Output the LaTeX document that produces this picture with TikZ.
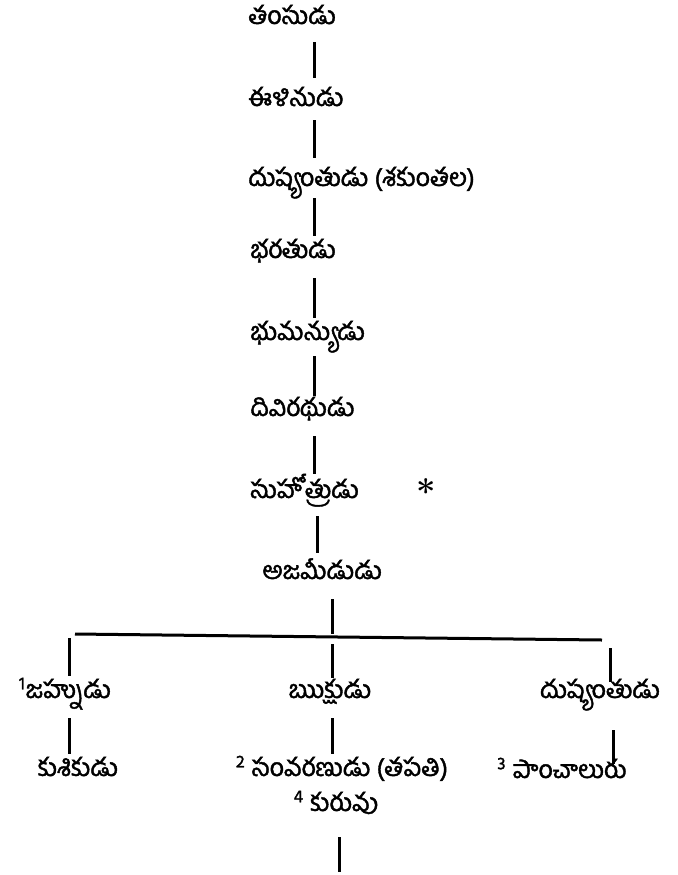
\documentclass[tikz,border=0pt]{standalone}
\usepackage{fontspec}
\usepackage{tikz}
\newfontfamily\telugu[Script=Telugu, FakeBold=1.6]{Hind Guntur}
\tikzset{
    gen/.style = {anchor=west, inner sep=0pt, font=\telugu\fontsize{12.5}{15}\selectfont, text height=6pt, text depth=2pt},
    kid/.style = {gen, anchor=center},
    link/.style = {line width=1.5pt},
    bar/.style = {line width=1.5pt},
}

\begin{document}
\begin{tikzpicture}[x=0.5pt, y=-0.5pt]
\useasboundingbox (0,0) rectangle (677,875);
% main line
\node [gen] (tamsu) at (248,20) {తంసుడు};
\node [gen] (ilina) at (248,102) {ఈళినుడు};
\node [gen] (dushyanta) at (248,182) {దుష్యంతుడు (శకుంతల)};
\node [gen] (bharata) at (250,254) {భరతుడు};
\node [gen] (bhumanyu) at (250,336) {భుమన్యుడు};
\node [gen] (diviratha) at (250,412) {దివిరథుడు};
\node [gen] (suhotra) at (250,494) {సుహోత్రుడు};
\node [gen, font=\bfseries\LARGE] (star) at (416,500) {*};
\node [gen] (ajamidha) at (262,575) {అజమీఢుడు};
% sons
\node [kid] (jahnu) at (65,694) {\textsuperscript{1}జహ్నుడు};
\node [kid] (riksha) at (330,694) {ఋక్షుడు};
\node [kid] (dushyanta2) at (600,694) {దుష్యంతుడు};
\node [kid] (kushika) at (78,772) {కుశికుడు};
\node [kid] (samvarana) at (342,772) {\textsuperscript{2} సంవరణుడు (తపతి)};
\node [kid] (panchala) at (562,774) {\textsuperscript{3} పాంచాలురు};
\node [kid] (kuru) at (336,807) {\textsuperscript{4} కురువు};
\coordinate (spine) at (314,0);
\coordinate (mid) at (332,0);
\coordinate (colL) at (69,0);
\coordinate (colR) at (610,0);
\coordinate (barL) at (75,634);
\coordinate (barR) at (602,640);
\coordinate (tail) at (339,872);

\foreach \a/\b/\s/\e in {tamsu/ilina/7/8, ilina/dushyanta/5/8, dushyanta/bharata/4/5, bharata/bhumanyu/8/5, bhumanyu/diviratha/6/4, diviratha/suhotra/8/6}
    \draw [link, shorten <=\s pt, shorten >=\e pt] (\a.south -| spine) -- (\b.north -| spine);
\draw [link, shorten <=7pt, shorten >=7pt] ([xshift=1.5pt]suhotra.south -| spine) -- ([xshift=1.5pt]ajamidha.north -| spine);
\draw [link, shorten <=8pt] (ajamidha.south -| mid) -- (mid |- barL);
\draw [bar] (barL) -- (barR);
\draw [link, shorten <=2pt, shorten >=5pt] (colL |- barL) -- (jahnu.north -| colL);
\draw [link, shorten <=5pt, shorten >=4pt] (mid |- barL) -- (riksha.north -| mid);
\draw [link, shorten <=4pt, shorten >=2pt] (colR |- barR) -- (dushyanta2.north -| colR);
\draw [link, shorten <=8pt, shorten >=5pt] (jahnu.south -| colL) -- (kushika.north -| colL);
\draw [link, shorten <=8pt, shorten >=5pt] (riksha.south -| mid) -- (samvarana.north -| mid);
\draw [link, shorten <=14pt, shorten >=1pt] ([xshift=1.5pt]dushyanta2.south -| colR) -- ([xshift=1.5pt]panchala.north -| colR);
\draw [link, shorten <=11pt] ([xshift=3.5pt]kuru.south -| mid) -- (tail);
\end{tikzpicture}
\end{document}
